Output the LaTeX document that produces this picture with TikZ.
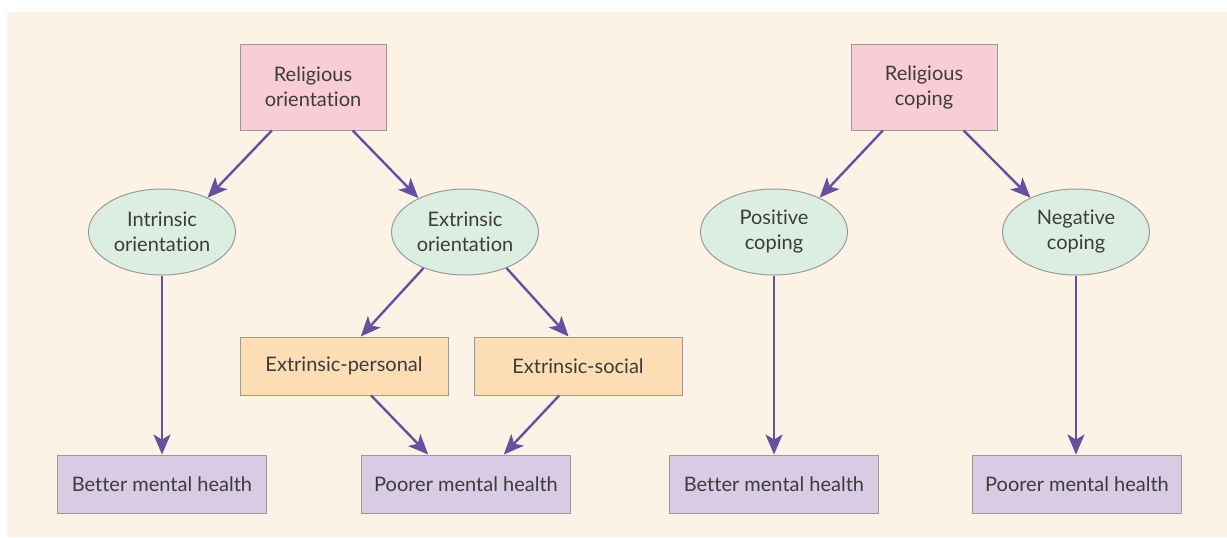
\documentclass[tikz,border=0pt]{standalone}
\usepackage{fontspec}
\setmainfont{Lato}[Ligatures=NoCommon]
\usepackage{tikz}
\usetikzlibrary{calc,arrows.meta,shapes.geometric}

\definecolor{paper}{HTML}{FDF2E6}
\definecolor{rosebox}{HTML}{F9CDD6}
\definecolor{mintbox}{HTML}{DCEDE2}
\definecolor{peachbox}{HTML}{FDDDB3}
\definecolor{lilacbox}{HTML}{D8CBE3}
\definecolor{arrowcol}{HTML}{6551A0}
\definecolor{edgecol}{HTML}{9A9A9A}
\definecolor{inkcol}{HTML}{3C3C3C}

\tikzset{
  every node/.style={font=\fontsize{10}{12.5}\selectfont, text=inkcol, align=center},
  rootbox/.style={draw=edgecol, line width=0.5pt, fill=rosebox, minimum width=73pt, minimum height=43pt},
  kindell/.style={ellipse, draw=edgecol, line width=0.5pt, fill=mintbox, minimum width=73.5pt, minimum height=43pt, inner sep=0pt},
  subbox/.style={draw=edgecol, line width=0.5pt, fill=peachbox, minimum width=104pt, minimum height=29pt},
  outbox/.style={draw=edgecol, line width=0.5pt, fill=lilacbox, minimum width=104.5pt, minimum height=29pt},
  link/.style={arrowcol, line width=1.2pt, -{Stealth[length=10pt,width=8.5pt,inset=2.5pt]}}
}

\begin{document}
\begin{tikzpicture}[x=0.5pt,y=-0.5pt]
  \useasboundingbox (0,0) rectangle (1227,537);
  \fill[paper] (7,12) rectangle (1227,537);

  % orientation tree
  \node[rootbox] (ro) at (313,87) {Religious\\orientation};
  \node[kindell] (io) at (162,232) {Intrinsic\\orientation};
  \node[kindell] (eo) at (465,232) {Extrinsic\\orientation};
  \node[subbox] (ep) at (344,366) {Extrinsic-personal};
  \node[subbox] (es) at (578,366) {Extrinsic-social};
  \node[outbox] (bl) at (162,484) {Better mental health};
  \node[outbox] (pl) at (466,484) {Poorer mental health};

  % coping tree
  \node[rootbox] (rc) at (924,87) {Religious\\coping};
  \node[kindell] (pc) at (774,232) {Positive\\coping};
  \node[kindell] (nc) at (1076,232) {Negative\\coping};
  \node[outbox] (br) at (774,484) {Better mental health};
  \node[outbox] (pr) at (1077,484) {Poorer mental health};

  \draw[link] ($(ro.south west)!0.22!(ro.south east)$) -- (io.37);
  \draw[link] ($(ro.south west)!0.77!(ro.south east)$) -- (eo.144);
  \draw[link] (eo.221) -- ($(ep.north west)!0.58!(ep.north east)$);
  \draw[link] (eo.319) -- ($(es.north west)!0.455!(es.north east)$);
  \draw[link] ($(ep.south west)!0.63!(ep.south east)$) -- ($(pl.north west)!0.32!(pl.north east)$);
  \draw[link] ($(es.south west)!0.41!(es.south east)$) -- ($(pl.north west)!0.68!(pl.north east)$);
  \draw[link] ($(rc.south west)!0.22!(rc.south east)$) -- (pc.37);
  \draw[link] ($(rc.south west)!0.77!(rc.south east)$) -- (nc.143);
  % straight drops to the outcomes
  \foreach \from/\to in {io/bl, pc/br, nc/pr}
    \draw[link] (\from.south) -- (\from.south |- \to.north);
\end{tikzpicture}
\end{document}
